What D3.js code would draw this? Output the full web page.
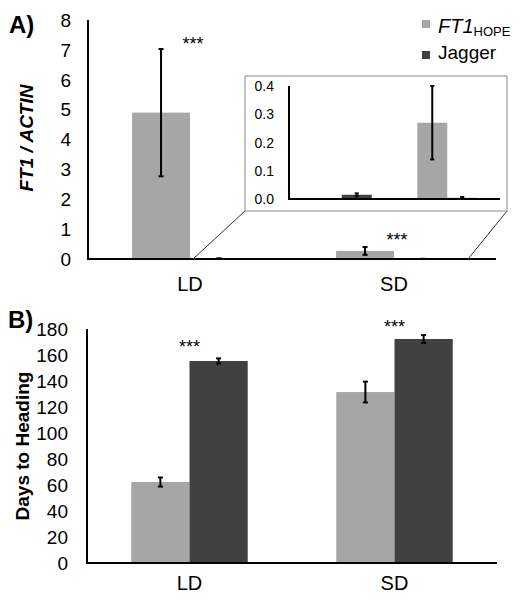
<!DOCTYPE html>
<html><head><meta charset="utf-8">
<script src="https://cdn.jsdelivr.net/npm/d3@7"></script>
<style>
html,body{margin:0;padding:0;background:#fff;}
svg{display:block;font-family:"Liberation Sans",Arial,sans-serif;}
</style></head>
<body>
<svg id="chart" width="520" height="606"></svg>
<script>
// ---- data ----
const categories = ["LD", "SD"];
const seriesNames = ["FT1_HOPE", "Jagger"];
const seriesColors = ["#a6a6a6", "#404040"];
// Panel A: FT1 / ACTIN expression
const ft1Expr = [4.9, 0.27];
const ft1ExprErr = [2.13, 0.13];
const jaggerExpr = [0.015, 0.004];
const jaggerExprErr = [0.005, 0.003];
const ticksA = [0, 1, 2, 3, 4, 5, 6, 7, 8];
const ticksInset = [0.0, 0.1, 0.2, 0.3, 0.4];
const starsA = [{cat: "LD", v: 7.0}, {cat: "SD", v: 0.45}];
// Panel B: days to heading
const ft1Days = [62.3, 131.5];
const ft1DaysErr = [3.5, 8];
const jaggerDays = [155.4, 172.3];
const jaggerDaysErr = [2, 3];
const ticksB = [0, 20, 40, 60, 80, 100, 120, 140, 160, 180];
const starsB = [{cat: "LD", v: 161.5}, {cat: "SD", v: 177}];

const svg = d3.select("#chart");

function rows(a, ae, b, be) {
  const out = [];
  categories.forEach((c, i) => {
    out.push({cat: c, s: seriesNames[0], v: a[i], e: ae[i]});
    out.push({cat: c, s: seriesNames[1], v: b[i], e: be[i]});
  });
  return out;
}

function drawBars(g, data, x0, x1, y, capW, filterMax) {
  const d = filterMax == null ? data : data.filter(r => r.v <= filterMax);
  g.selectAll(null).data(d).enter().append("rect")
    .attr("x", r => x0(r.cat) + x1(r.s))
    .attr("width", x1.bandwidth())
    .attr("y", r => y(r.v))
    .attr("height", r => y(0) - y(r.v))
    .attr("fill", r => seriesColors[seriesNames.indexOf(r.s)]);
  const eb = g.selectAll(null).data(d).enter().append("g")
    .attr("stroke", "#000").attr("stroke-width", 2);
  eb.append("line")
    .attr("x1", r => x0(r.cat) + x1(r.s) + x1.bandwidth() / 2)
    .attr("x2", r => x0(r.cat) + x1(r.s) + x1.bandwidth() / 2)
    .attr("y1", r => y(r.v + r.e)).attr("y2", r => y(Math.max(0, r.v - r.e)));
  [r => r.v + r.e, r => Math.max(0, r.v - r.e)].forEach(fn => {
    eb.append("line")
      .attr("x1", r => x0(r.cat) + x1(r.s) + x1.bandwidth() / 2 - capW / 2)
      .attr("x2", r => x0(r.cat) + x1(r.s) + x1.bandwidth() / 2 + capW / 2)
      .attr("y1", r => y(fn(r))).attr("y2", r => y(fn(r)));
  });
}

function axesLines(g, x0, y, yTop, lw) {
  const xr = x0.range();
  g.append("line").attr("x1", xr[0]).attr("x2", xr[0])
    .attr("y1", y(yTop)).attr("y2", y(0)).attr("stroke", "#000").attr("stroke-width", lw);
  g.append("line").attr("x1", xr[0] - 1).attr("x2", xr[1])
    .attr("y1", y(0)).attr("y2", y(0)).attr("stroke", "#000").attr("stroke-width", lw);
}

function yTickLabels(g, ticks, y, xRight, size, fmt) {
  g.selectAll(null).data(ticks).enter().append("text")
    .attr("x", xRight).attr("y", t => y(t)).attr("dy", "0.36em")
    .attr("text-anchor", "end").attr("font-size", size).attr("fill", "#000")
    .text(fmt);
}

// ---- Panel A ----
const gA = svg.append("g");
const x0A = d3.scaleBand().domain(categories).range([88, 496]);
const x1A = d3.scaleBand().domain(seriesNames).range([x0A.bandwidth() * 0.216, x0A.bandwidth() * 0.784]);
const yA = d3.scaleLinear().domain([0, 8]).range([259, 20]);
const dataA = rows(ft1Expr, ft1ExprErr, jaggerExpr, jaggerExprErr);
drawBars(gA, dataA, x0A, x1A, yA, 5);
axesLines(gA, x0A, yA, 8, 2);
yTickLabels(gA, ticksA, yA, 71, 19, d => d);
gA.selectAll(null).data(categories).enter().append("text")
  .attr("x", c => x0A(c) + x0A.bandwidth() / 2).attr("y", 291)
  .attr("text-anchor", "middle").attr("font-size", 20).text(c => c);
gA.selectAll(null).data(starsA).enter().append("text")
  .attr("x", s => x0A(s.cat) + x0A.bandwidth() / 2 + 3).attr("y", s => yA(s.v))
  .attr("text-anchor", "middle").attr("font-size", 18).text("***");
gA.append("text").attr("transform", "translate(33,138) rotate(-90)")
  .attr("text-anchor", "middle").attr("font-size", 19).attr("font-weight", "bold")
  .attr("font-style", "italic").text("FT1 / ACTIN");
svg.append("text").attr("x", 9).attr("y", 33).attr("font-size", 24)
  .attr("font-weight", "bold").text("A)");

// inset box + connectors
const box = {x: 245, y: 76, w: 262, h: 135};
const connL = x0A("LD") + x0A.bandwidth() / 2 + 3;
const connR = x0A("SD") + x0A.bandwidth() * 0.863;
gA.append("line").attr("x1", box.x).attr("y1", box.y + box.h).attr("x2", connL).attr("y2", yA(0))
  .attr("stroke", "#333").attr("stroke-width", 1);
gA.append("line").attr("x1", box.x + box.w).attr("y1", box.y + box.h).attr("x2", connR).attr("y2", yA(0))
  .attr("stroke", "#333").attr("stroke-width", 1);
gA.append("rect").attr("x", box.x).attr("y", box.y).attr("width", box.w).attr("height", box.h)
  .attr("fill", "#fff").attr("stroke", "#8a8a8a").attr("stroke-width", 1);
const gI = gA.append("g");
const x0I = d3.scaleBand().domain(categories).range([289, 500]);
const x1I = d3.scaleBand().domain(seriesNames).range([x0I.bandwidth() * 0.216, x0I.bandwidth() * 0.784]);
const yI = d3.scaleLinear().domain([0, 0.4]).range([199, 86]);
drawBars(gI, dataA, x0I, x1I, yI, 4, 0.4);
axesLines(gI, x0I, yI, 0.4, 2);
yTickLabels(gI, ticksInset, yI, 274, 14, d => d3.format(".1f")(d));

// legend
const leg = svg.append("g");
leg.append("rect").attr("x", 422).attr("y", 20).attr("width", 8).attr("height", 8).attr("fill", seriesColors[0]);
leg.append("rect").attr("x", 422).attr("y", 51).attr("width", 8).attr("height", 8).attr("fill", seriesColors[1]);
const t1 = leg.append("text").attr("x", 438).attr("y", 33).attr("font-size", 20);
t1.append("tspan").attr("font-style", "italic").text("FT1");
t1.append("tspan").attr("font-size", 13).attr("dy", 3).text("HOPE");
leg.append("text").attr("x", 438).attr("y", 59).attr("font-size", 19).text("Jagger");

// ---- Panel B ----
const gB = svg.append("g");
const x0B = d3.scaleBand().domain(categories).range([87, 497]);
const x1B = d3.scaleBand().domain(seriesNames).range([x0B.bandwidth() * 0.216, x0B.bandwidth() * 0.784]);
const yB = d3.scaleLinear().domain([0, 180]).range([563, 329]);
const dataB = rows(ft1Days, ft1DaysErr, jaggerDays, jaggerDaysErr);
drawBars(gB, dataB, x0B, x1B, yB, 5);
axesLines(gB, x0B, yB, 180, 2);
yTickLabels(gB, ticksB, yB, 68, 19, d => d);
gB.selectAll(null).data(categories).enter().append("text")
  .attr("x", c => x0B(c) + x0B.bandwidth() / 2).attr("y", 590)
  .attr("text-anchor", "middle").attr("font-size", 20).text(c => c);
gB.selectAll(null).data(starsB).enter().append("text")
  .attr("x", s => x0B(s.cat) + x0B.bandwidth() / 2).attr("y", s => yB(s.v))
  .attr("text-anchor", "middle").attr("font-size", 18).text("***");
gB.append("text").attr("transform", "translate(29,446) rotate(-90)")
  .attr("text-anchor", "middle").attr("font-size", 19).attr("font-weight", "bold")
  .text("Days to Heading");
svg.append("text").attr("x", 8).attr("y", 328).attr("font-size", 24)
  .attr("font-weight", "bold").text("B)");
</script>
</body></html>
